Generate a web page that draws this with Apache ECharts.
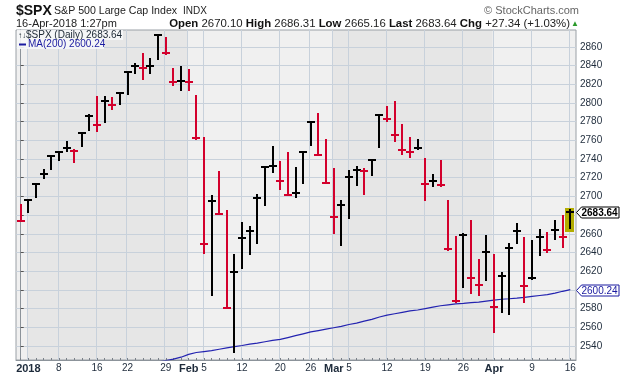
<!DOCTYPE html>
<html>
<head>
<meta charset="utf-8">
<script src="https://cdn.jsdelivr.net/npm/echarts@6/dist/echarts.min.js"></script>
<style>
  html, body { margin: 0; padding: 0; background: #fff; }
  #chart { width: 620px; height: 376px; }
</style>
</head>
<body>
<div id="chart"></div>
<script>
// $SPX daily HLC bars, 29-Dec-2017 .. 16-Apr-2018
var dates = ['12-29',
  '01-02','01-03','01-04','01-05','01-08','01-09','01-10','01-11','01-12','01-16','01-17','01-18','01-19',
  '01-22','01-23','01-24','01-25','01-26','01-29','01-30','01-31',
  '02-01','02-02','02-05','02-06','02-07','02-08','02-09','02-12','02-13','02-14','02-15','02-16',
  '02-20','02-21','02-22','02-23','02-26','02-27','02-28',
  '03-01','03-02','03-05','03-06','03-07','03-08','03-09','03-12','03-13','03-14','03-15','03-16',
  '03-19','03-20','03-21','03-22','03-23','03-26','03-27','03-28','03-29',
  '04-02','04-03','04-04','04-05','04-06','04-09','04-10','04-11','04-12','04-13','04-16'];

var highs = [2692.12, 2695.89, 2714.37, 2729.29, 2743.45, 2748.51, 2759.14, 2750.80, 2767.56, 2787.85,
  2807.54, 2807.04, 2805.83, 2810.33, 2833.03, 2842.24, 2852.97, 2848.56, 2872.87, 2870.62,
  2837.75, 2839.26, 2835.96, 2808.92, 2763.39, 2701.04, 2727.67, 2685.27, 2638.67, 2672.61,
  2668.84, 2702.10, 2731.51, 2754.42, 2737.60, 2747.75, 2731.26, 2747.76, 2780.64, 2789.15,
  2761.52, 2730.89, 2696.25, 2728.09, 2732.08, 2730.60, 2740.45, 2786.57, 2796.98, 2801.90,
  2777.11, 2763.03, 2761.85, 2741.38, 2724.22, 2739.14, 2695.68, 2657.67, 2661.36, 2674.78,
  2632.65, 2659.07, 2638.30, 2619.14, 2649.86, 2672.08, 2656.88, 2653.55, 2665.45, 2661.43,
  2674.72, 2680.26, 2686.31];

var lows = [2673.61, 2682.36, 2697.77, 2719.07, 2727.92, 2737.60, 2747.86, 2736.06, 2752.78, 2769.64,
  2768.64, 2778.38, 2792.56, 2798.08, 2808.12, 2830.59, 2824.81, 2830.94, 2846.18, 2851.48,
  2818.27, 2813.04, 2812.70, 2759.97, 2638.17, 2593.07, 2681.33, 2580.56, 2532.69, 2622.45,
  2637.08, 2648.87, 2689.82, 2725.11, 2706.76, 2701.29, 2697.77, 2713.74, 2753.78, 2744.22,
  2713.54, 2659.65, 2647.32, 2675.75, 2711.26, 2701.74, 2721.88, 2751.54, 2779.26, 2758.68,
  2744.38, 2741.47, 2749.97, 2694.59, 2710.05, 2709.79, 2641.59, 2585.89, 2601.81, 2596.12,
  2593.06, 2609.72, 2553.80, 2575.49, 2573.61, 2649.58, 2586.27, 2610.79, 2635.78, 2639.25,
  2653.83, 2645.05, 2665.16];

var closes = [2673.61, 2695.81, 2713.06, 2723.99, 2743.15, 2747.71, 2751.29, 2748.23, 2767.56, 2786.24,
  2776.42, 2802.56, 2798.03, 2810.30, 2832.97, 2839.13, 2837.54, 2839.25, 2872.87, 2853.53,
  2822.43, 2823.81, 2821.98, 2762.13, 2648.94, 2695.14, 2681.66, 2581.00, 2619.55, 2656.00,
  2662.94, 2698.63, 2731.20, 2732.22, 2716.26, 2701.33, 2703.96, 2747.30, 2779.60, 2744.28,
  2713.83, 2677.67, 2691.25, 2720.94, 2728.12, 2726.80, 2738.97, 2786.57, 2783.02, 2765.31,
  2749.48, 2747.33, 2752.01, 2712.92, 2716.94, 2711.93, 2643.69, 2588.26, 2658.55, 2612.62,
  2605.00, 2640.87, 2581.88, 2614.45, 2644.69, 2662.84, 2604.47, 2613.16, 2656.87, 2642.19,
  2663.99, 2656.30, 2683.64];

// 200-day moving average (early values sit below the visible range)
var ma200 = [2496, 2498, 2500, 2502, 2504, 2506, 2507, 2509, 2511, 2512,
  2514, 2515, 2517, 2518, 2519, 2520, 2521, 2522, 2523, 2524.5,
  2526, 2528, 2531, 2533, 2534, 2535, 2536.5, 2538, 2539.3, 2540.5,
  2542, 2543, 2544.5, 2546, 2547, 2549, 2551, 2553, 2555, 2556.5,
  2558, 2559.5, 2561, 2563, 2564.5, 2566.5, 2568.5, 2571, 2573, 2574.5,
  2576, 2577.5, 2578.5, 2580, 2581.5, 2583, 2584, 2585, 2585.6, 2586.3,
  2587, 2588, 2589, 2590, 2590.5, 2591.2, 2592, 2593, 2594, 2595,
  2596.5, 2598.5, 2600.24];

var priorClose = 2687.54; // 28-Dec-2017 close, colours the first bar

var tickIdx = [1, 5, 10, 14, 19, 24, 29, 34, 38, 43, 48, 53, 58, 62, 67, 72];
var tickLabels = ['2018', '8', '16', '22', '29', 'Feb 5', '12', '20', '26', 'Mar 5', '12', '19', '26', 'Apr', '9', '16'];
var monthStarts = [1, 22, 41, 62];
var yTicks = [2540, 2560, 2580, 2600, 2620, 2640, 2660, 2680, 2700, 2720, 2740, 2760, 2780, 2800, 2820, 2840, 2860];

var FONT = 'Liberation Sans, Arial, sans-serif';
var xMin = -0.62, xMax = 72.75;
var yMin = 2525, yMax = 2878;
var last = dates.length - 1;

// gridlines sit just left of the bar they mark
var gridIdx = tickIdx.concat([22, 41]).map(function (i) { return i - 0.15; });
var dayIdx = dates.map(function (d, i) { return i; });

var barData = dates.map(function (d, i) {
  var prev = i === 0 ? priorClose : closes[i - 1];
  return [i, highs[i], lows[i], closes[i], closes[i] >= prev ? 1 : 0];
});

var edges = [xMin].concat(monthStarts.map(function (i) { return i - 0.15; })).concat([xMax]);
var bandData = [];
for (var k = 0; k < edges.length - 1; k++) {
  bandData.push([edges[k], edges[k + 1], yMin, k % 2]);
}

function drawBand(params, api) {
  var cs = params.coordSys;
  var a = api.coord([api.value(0), yMin]);
  var b = api.coord([api.value(1), yMin]);
  return {
    type: 'rect',
    shape: { x: a[0], y: cs.y, width: b[0] - a[0], height: cs.height },
    style: { fill: api.value(3) ? '#e6e6e6' : '#f0f0f0' }
  };
}

function drawBar(params, api) {
  var i = api.value(0);
  var top = api.coord([i, api.value(1)]);
  var bot = api.coord([i, api.value(2)]);
  var cls = api.coord([i, api.value(3)]);
  var col = api.value(4) ? '#000000' : '#d3002c';
  var x = Math.round(top[0]);
  var y0 = Math.round(top[1]);
  var h = Math.max(2, Math.round(bot[1]) - y0);
  var yc = Math.round(cls[1]);
  var kids = [];
  if (i === last) {
    kids.push({ type: 'rect', shape: { x: x - 5, y: y0 - 1, width: 9, height: h + 4 }, style: { fill: '#b3ad00' } });
  }
  kids.push({ type: 'rect', shape: { x: x - 1, y: y0, width: 2, height: h }, style: { fill: col } });
  kids.push({ type: 'rect', shape: { x: x - 4, y: yc - 1, width: 8, height: 2 }, style: { fill: col } });
  return { type: 'group', children: kids };
}

function drawTag(params, api) {
  var cs = params.coordSys;
  var p = api.coord([api.value(0), api.value(1)]);
  var y = Math.round(p[1]) + 0.5;
  var x0 = cs.x + cs.width + 0.5;
  var isMa = api.value(2) === 1;
  var col = isMa ? '#1a1aa0' : '#000000';
  var w = 42.5;
  return {
    type: 'group',
    children: [
      { type: 'polygon',
        shape: { points: [[x0, y], [x0 + 5, y - 5.5], [x0 + w, y - 5.5], [x0 + w, y + 5.5], [x0 + 5, y + 5.5]] },
        style: { fill: '#ffffff', stroke: col, lineWidth: 1 } },
      { type: 'text',
        style: { x: x0 + 5, y: y + 0.5, text: api.value(1).toFixed(2), fill: col,
                 font: (isMa ? '' : 'bold ') + '10px ' + FONT, verticalAlign: 'middle' } }
    ]
  };
}

var chart = echarts.init(document.getElementById('chart'));

chart.setOption({
  animation: false,
  backgroundColor: '#ffffff',
  grid: { left: 16, right: 44, top: 30, bottom: 16, show: true, borderColor: '#9aa0a6', borderWidth: 1, backgroundColor: 'transparent' },
  xAxis: [{
    type: 'value', min: xMin, max: xMax,
    axisLine: { show: true, lineStyle: { color: '#8c939a' } },
    axisTick: { show: false, customValues: gridIdx },
    splitLine: { show: true, lineStyle: { color: '#c8d1db', width: 1 } },
    axisLabel: {
      customValues: tickIdx, margin: 3, fontSize: 10, fontFamily: FONT, color: '#1e2b3b',
      formatter: function (v) {
        var s = tickLabels[tickIdx.indexOf(Math.round(v))];
        if (s === '2018' || s === 'Apr') return '{m|' + s + '}';
        var parts = s.split(' ');
        if (parts.length === 2) return '{m|' + parts[0] + '} ' + parts[1] + '{p| }';
        return s;
      },
      rich: {
        m: { fontWeight: 'bold', fontSize: 11, fontFamily: FONT, color: '#1e2b3b' },
        p: { width: 22 }
      }
    }
  }, {
    type: 'value', min: xMin, max: xMax, position: 'bottom',
    axisLine: { show: false },
    axisLabel: { show: false },
    splitLine: { show: false },
    axisTick: { show: true, inside: true, length: 2, customValues: dayIdx, lineStyle: { color: '#7a8088' } }
  }],
  yAxis: {
    type: 'value', position: 'right', min: yMin, max: yMax,
    axisLine: { show: true, lineStyle: { color: '#8c939a' } },
    axisTick: { show: true, length: 3, customValues: yTicks, lineStyle: { color: '#555' } },
    splitLine: { show: true, lineStyle: { color: '#c8d1db', width: 1 } },
    axisLabel: { customValues: yTicks, margin: 4, fontSize: 10, fontFamily: FONT, color: '#1e2b3b',
      formatter: function (v) { return String(v); } }
  },
  series: [{
    type: 'custom', name: 'bands', z: -1, silent: true,
    encode: { x: [0, 1], y: 2 },
    renderItem: drawBand,
    data: bandData
  }, {
    type: 'line', name: 'MA(200)', z: 3, silent: true,
    showSymbol: false,
    lineStyle: { color: '#2323b0', width: 1.2 },
    data: ma200.map(function (v, i) { return [i, v]; })
  }, {
    type: 'custom', name: '$SPX', z: 4, silent: true,
    encode: { x: 0, y: [1, 2, 3] },
    renderItem: drawBar,
    data: barData
  }, {
    type: 'custom', name: 'tags', z: 10, silent: true,
    encode: { x: 0, y: 1 },
    renderItem: drawTag,
    data: [[last, closes[last], 0], [last, ma200[last], 1]]
  }],
  graphic: [
    { type: 'text', x: 16, y: 11, style: { text: '$SPX', font: 'bold 14px ' + FONT, fill: '#111', verticalAlign: 'middle' } },
    { type: 'text', x: 54, y: 11, style: { text: 'S&P 500 Large Cap Index', font: '10.6px ' + FONT, fill: '#222', verticalAlign: 'middle' } },
    { type: 'text', x: 183, y: 11, style: { text: 'INDX', font: '10px ' + FONT, fill: '#222', verticalAlign: 'middle' } },
    { type: 'text', x: 579, y: 11, style: { text: '\u00a9 StockCharts.com', font: '11px ' + FONT, fill: '#666', align: 'right', verticalAlign: 'middle' } },
    { type: 'text', x: 16, y: 24, style: { text: '16-Apr-2018 1:27pm', font: '11px ' + FONT, fill: '#222', verticalAlign: 'middle' } },
    { type: 'text', x: 570, y: 24, style: {
        text: '{b|Open} 2670.10 {b|High} 2686.31 {b|Low} 2665.16 {b|Last} 2683.64 {b|Chg} +27.34 (+1.03%)',
        font: '11.4px ' + FONT, fill: '#222', align: 'right', verticalAlign: 'middle',
        rich: { b: { fontWeight: 'bold', fontSize: 11.4, fontFamily: FONT, fill: '#111' } } } },
    { type: 'text', x: 579, y: 24, style: { text: '\u25b2', font: '8px ' + FONT, fill: '#2a9a2a', align: 'right', verticalAlign: 'middle' } },
    { type: 'rect', z: 100, shape: { x: 17, y: 30, width: 106, height: 10 }, style: { fill: 'rgba(246,247,248,0.9)' } },
    { type: 'rect', z: 100, shape: { x: 17, y: 40, width: 87, height: 9 }, style: { fill: 'rgba(246,247,248,0.9)' } },
    { type: 'text', z: 101, x: 18, y: 35.5, style: {
        text: '{a|\u2191\u2193}$SPX (Daily) 2683.64', font: '10px ' + FONT, fill: '#1b2733', verticalAlign: 'middle',
        rich: { a: { fontSize: 8, fontFamily: FONT, fill: '#1b2733' } } } },
    { type: 'rect', z: 101, shape: { x: 19, y: 43.5, width: 7, height: 2 }, style: { fill: '#1a1aa0' } },
    { type: 'text', z: 101, x: 28, y: 44.5, style: { text: 'MA(200) 2600.24', font: '10px ' + FONT, fill: '#1a1aa0', verticalAlign: 'middle' } }
  ]
});
</script>
</body>
</html>
